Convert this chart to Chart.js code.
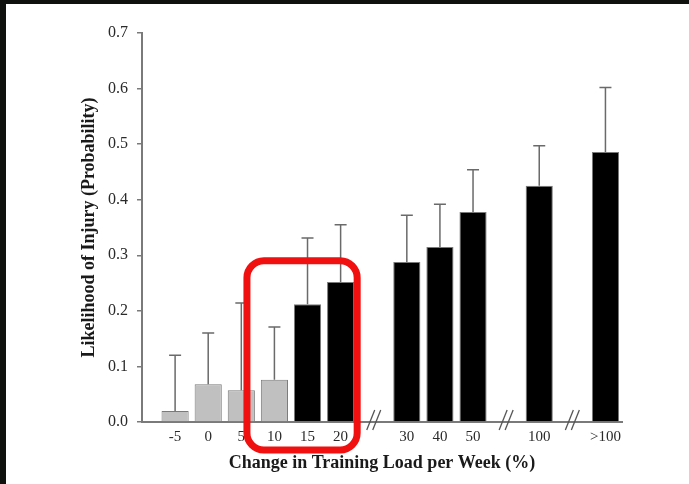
<!DOCTYPE html>
<html>
<head>
<meta charset="utf-8">
<script src="https://cdn.jsdelivr.net/npm/chart.js@4"></script>
<style>
html, body { margin: 0; padding: 0; background: #0f110f; overflow: hidden; }
#wrap { position: absolute; left: 6px; top: 4px; width: 683px; height: 480px; background: #fff; }
</style>
</head>
<body>
<div id="wrap"><canvas id="chart" width="683" height="480"></canvas></div>
<script>
// change in training load per week (%)
const labels = ['-5', '0', '5', '10', '15', '20', '30', '40', '50', '100', '>100'];
// slot on the x axis, gaps are where the axis is broken
const slots = [0, 1, 2, 3, 4, 5, 7, 8, 9, 11, 13];
const breaks = [6, 10, 12];
// likelihood of injury and upper error bar
const injury = [0.02, 0.068, 0.057, 0.076, 0.212, 0.252, 0.288, 0.315, 0.378, 0.425, 0.486];
const upper = [0.12, 0.16, 0.214, 0.171, 0.331, 0.355, 0.372, 0.392, 0.454, 0.497, 0.602];
const group = ['low', 'low', 'low', 'low', 'high', 'high', 'high', 'high', 'high', 'high', 'high'];
// boxed region (x slots, top value)
const boxFrom = 2.17, boxTo = 5.5, boxTop = 0.29;

const fills = {low: '#c0c0c0', high: '#000000'};
const axisGrey = '#7a7a7a';
const serif = "'Liberation Serif', 'Times New Roman', serif";

const errorBars = {
    id: 'errorBars',
    afterDatasetsDraw(chart) {
        const ctx = chart.ctx, x = chart.scales.x, y = chart.scales.y;
        ctx.save();
        ctx.strokeStyle = '#6a6a6a';
        ctx.lineWidth = 1.5;
        for (let i = 0; i < injury.length; i++) {
            const px = x.getPixelForValue(slots[i]);
            const y0 = y.getPixelForValue(injury[i]);
            const y1 = y.getPixelForValue(upper[i]);
            ctx.beginPath();
            ctx.moveTo(px, y0);
            ctx.lineTo(px, y1);
            ctx.moveTo(px - 6, y1);
            ctx.lineTo(px + 6, y1);
            ctx.stroke();
        }
        ctx.restore();
    }
};

const axisBreaks = {
    id: 'axisBreaks',
    afterDraw(chart) {
        const ctx = chart.ctx, x = chart.scales.x, y = chart.scales.y;
        const base = y.getPixelForValue(0) - 2;
        ctx.save();
        ctx.strokeStyle = '#555';
        ctx.lineWidth = 1.3;
        breaks.forEach(b => {
            const px = x.getPixelForValue(b);
            [-3, 3].forEach(d => {
                ctx.beginPath();
                ctx.moveTo(px + d - 4, base + 10);
                ctx.lineTo(px + d + 4, base - 10);
                ctx.stroke();
            });
        });
        ctx.restore();
    }
};

const redBox = {
    id: 'redBox',
    afterDraw(chart) {
        const ctx = chart.ctx, x = chart.scales.x, y = chart.scales.y;
        const l = x.getPixelForValue(boxFrom), r = x.getPixelForValue(boxTo);
        const t = y.getPixelForValue(boxTop), b = y.getPixelForValue(0) + 28;
        const rad = 17;
        ctx.save();
        ctx.strokeStyle = '#f01010';
        ctx.lineWidth = 7;
        ctx.beginPath();
        ctx.moveTo(l + rad, t);
        ctx.arcTo(r, t, r, b, rad);
        ctx.arcTo(r, b, l, b, rad);
        ctx.arcTo(l, b, l, t, rad);
        ctx.arcTo(l, t, r, t, rad);
        ctx.closePath();
        ctx.stroke();
        ctx.restore();
    }
};

new Chart(document.getElementById('chart'), {
    type: 'bar',
    data: {
        datasets: [{
            data: slots.map((s, i) => ({x: s, y: injury[i]})),
            backgroundColor: group.map(g => fills[g]),
            borderColor: axisGrey,
            borderWidth: 1,
            categoryPercentage: 1,
            barPercentage: 0.82
        }]
    },
    options: {
        responsive: false,
        animation: false,
        devicePixelRatio: 1,
        layout: {padding: {left: 0, top: 29, right: 67, bottom: 0}},
        plugins: {legend: {display: false}, tooltip: {enabled: false}},
        scales: {
            x: {
                type: 'linear',
                offset: false,
                min: -1,
                max: 13.5,
                afterBuildTicks(scale) {
                    scale.ticks = slots.map(v => ({value: v}));
                },
                afterFit(scale) { scale.height = 62; },
                grid: {drawOnChartArea: false, drawTicks: false},
                border: {color: axisGrey, width: 2},
                ticks: {
                    autoSkip: false,
                    maxRotation: 0,
                    padding: 6,
                    color: '#2a2a2a',
                    font: {family: serif, size: 15},
                    callback: (v, i) => labels[i]
                },
                title: {
                    display: true,
                    text: 'Change in Training Load per Week (%)',
                    color: '#1a1a1a',
                    font: {family: serif, size: 18, weight: 'bold'},
                    padding: {top: 0, bottom: 10}
                }
            },
            y: {
                min: 0,
                max: 0.7,
                afterFit(scale) { scale.width = 136; },
                grid: {drawOnChartArea: false, tickLength: 5, color: axisGrey, lineWidth: 1.5},
                border: {color: axisGrey, width: 2},
                ticks: {
                    stepSize: 0.1,
                    padding: 9,
                    color: '#2a2a2a',
                    font: {family: serif, size: 16},
                    callback: v => v.toFixed(1)
                },
                title: {
                    display: true,
                    text: 'Likelihood of Injury (Probability)',
                    color: '#1a1a1a',
                    font: {family: serif, size: 18, weight: 'bold'},
                    padding: {top: 73, bottom: 0}
                }
            }
        }
    },
    plugins: [errorBars, axisBreaks, redBox]
});
</script>
</body>
</html>
